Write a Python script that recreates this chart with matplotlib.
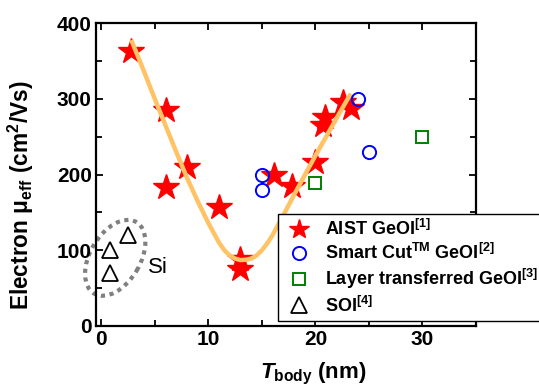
import numpy as np
import matplotlib
matplotlib.use('Agg')
import matplotlib.pyplot as plt
from matplotlib.patches import Ellipse
from matplotlib.lines import Line2D
from matplotlib import transforms

plt.rcParams['font.family'] = ['Liberation Sans', 'DejaVu Sans']
plt.rcParams['font.weight'] = 'bold'
plt.rcParams['axes.labelweight'] = 'bold'
plt.rcParams['mathtext.fontset'] = 'custom'
plt.rcParams['mathtext.rm'] = 'Liberation Sans:bold'
plt.rcParams['mathtext.bf'] = 'Liberation Sans:bold'
plt.rcParams['mathtext.it'] = 'Liberation Sans:italic:bold'

# AIST GeOI
aist_t = [2.8, 6.0, 6.0, 8.0, 11.0, 13.0, 13.0, 16.1, 17.8, 20.0, 20.9, 20.7, 22.6, 23.3]
aist_mu = [364, 286, 184, 210, 157, 88, 75, 199, 185, 217, 276, 266, 296, 288]
# Smart Cut GeOI
sc_t = [15.0, 15.0, 24.0, 25.0]
sc_mu = [200, 180, 300, 230]
# Layer transferred GeOI
lt_t = [20.0, 30.0]
lt_mu = [189, 250]
# SOI
soi_t = [0.8, 0.8, 2.5]
soi_mu = [100, 70, 120]
# fitted guide curve
fit_t = [2.8, 4, 5, 6, 7, 8, 9, 10, 11, 11.5, 12, 12.5, 13, 13.5, 14, 14.5,
         15, 15.5, 16, 17, 17.7, 18, 19, 20, 21, 22, 23.3]
fit_mu = [378, 336, 300, 265, 230, 196, 165, 136, 110, 100, 93, 89, 87, 87.5,
          89, 93, 100, 109, 120, 146, 165, 173, 199, 225, 250, 275, 307]

fig = plt.figure(figsize=(5.39, 3.88), dpi=100)
ax = fig.add_axes([0.178, 0.16, 0.705, 0.78])

ax.plot(fit_t, fit_mu, color='#FFC366', lw=3.2, solid_capstyle='butt', zorder=3)
ax.plot(aist_t, aist_mu, ls='none', marker='*', ms=19, color='red', mec='red', zorder=2)
ax.plot(sc_t, sc_mu, ls='none', marker='o', ms=9.5, mfc='none', mec='blue', mew=1.4, zorder=4)
ax.plot(lt_t, lt_mu, ls='none', marker='s', ms=8.5, mfc='none', mec='green', mew=1.4, zorder=4)
ax.plot(soi_t, soi_mu, ls='none', marker='^', ms=11, mfc='none', mec='black', mew=1.3, zorder=4)

# dotted ellipse around the Si points
trans = fig.dpi_scale_trans + transforms.ScaledTranslation(1.3, 90, ax.transData)
ax.add_patch(Ellipse((0, 0), 0.83, 0.50, angle=59.5, transform=trans, fill=False,
                     ec='#808080', lw=3, ls=(0, (1, 1.1)), clip_on=False))
ax.text(5.3, 77, 'Si', fontsize=16, fontweight='normal', ha='center', va='center')

ax.set_xlim(-0.5, 35)
ax.set_ylim(0, 400)
ax.set_xticks([0, 10, 20, 30])
ax.set_xticks([5, 15, 25, 35], minor=True)
ax.set_yticks([0, 100, 200, 300, 400])
ax.set_yticks([50, 150, 250, 350], minor=True)
ax.tick_params(which='both', direction='in', top=True, right=True, width=1.3)
ax.tick_params(which='major', length=5, labelsize=15, pad=3)
ax.tick_params(which='minor', length=4)
for s in ax.spines.values():
    s.set_linewidth(1.6)

ax.set_xlabel(r'$T_{\rm body}$ (nm)', fontsize=16)
ax.set_ylabel(r'Electron μ$_{\rm eff}$ (cm$^{\rm 2}$/Vs)', fontsize=16.3)
ax.xaxis.set_label_coords(0.571, -0.115)
ax.yaxis.set_label_coords(-0.158, 0.43)

handles = [
    Line2D([], [], ls='none', marker='*', ms=15, color='red'),
    Line2D([], [], ls='none', marker='o', ms=9.5, mfc='none', mec='blue', mew=1.4),
    Line2D([], [], ls='none', marker='s', ms=8.5, mfc='none', mec='green', mew=1.4),
    Line2D([], [], ls='none', marker='^', ms=11, mfc='none', mec='black', mew=1.3),
]
labels = [r'AIST GeOI$^{\rm [1]}$', r'Smart Cut$^{\rm TM}$ GeOI$^{\rm [2]}$',
          r'Layer transferred GeOI$^{\rm [3]}$', r'SOI$^{\rm [4]}$']
leg = fig.legend(handles, labels, loc='upper left', bbox_to_anchor=(0.516, 0.449),
                 fontsize=13, frameon=True, fancybox=False, edgecolor='black',
                 framealpha=1, labelspacing=0.22, handletextpad=0.6,
                 borderpad=0.3, handlelength=1.7, borderaxespad=0)
leg.get_frame().set_linewidth(1.0)

fig.savefig('out.png', dpi=100)
